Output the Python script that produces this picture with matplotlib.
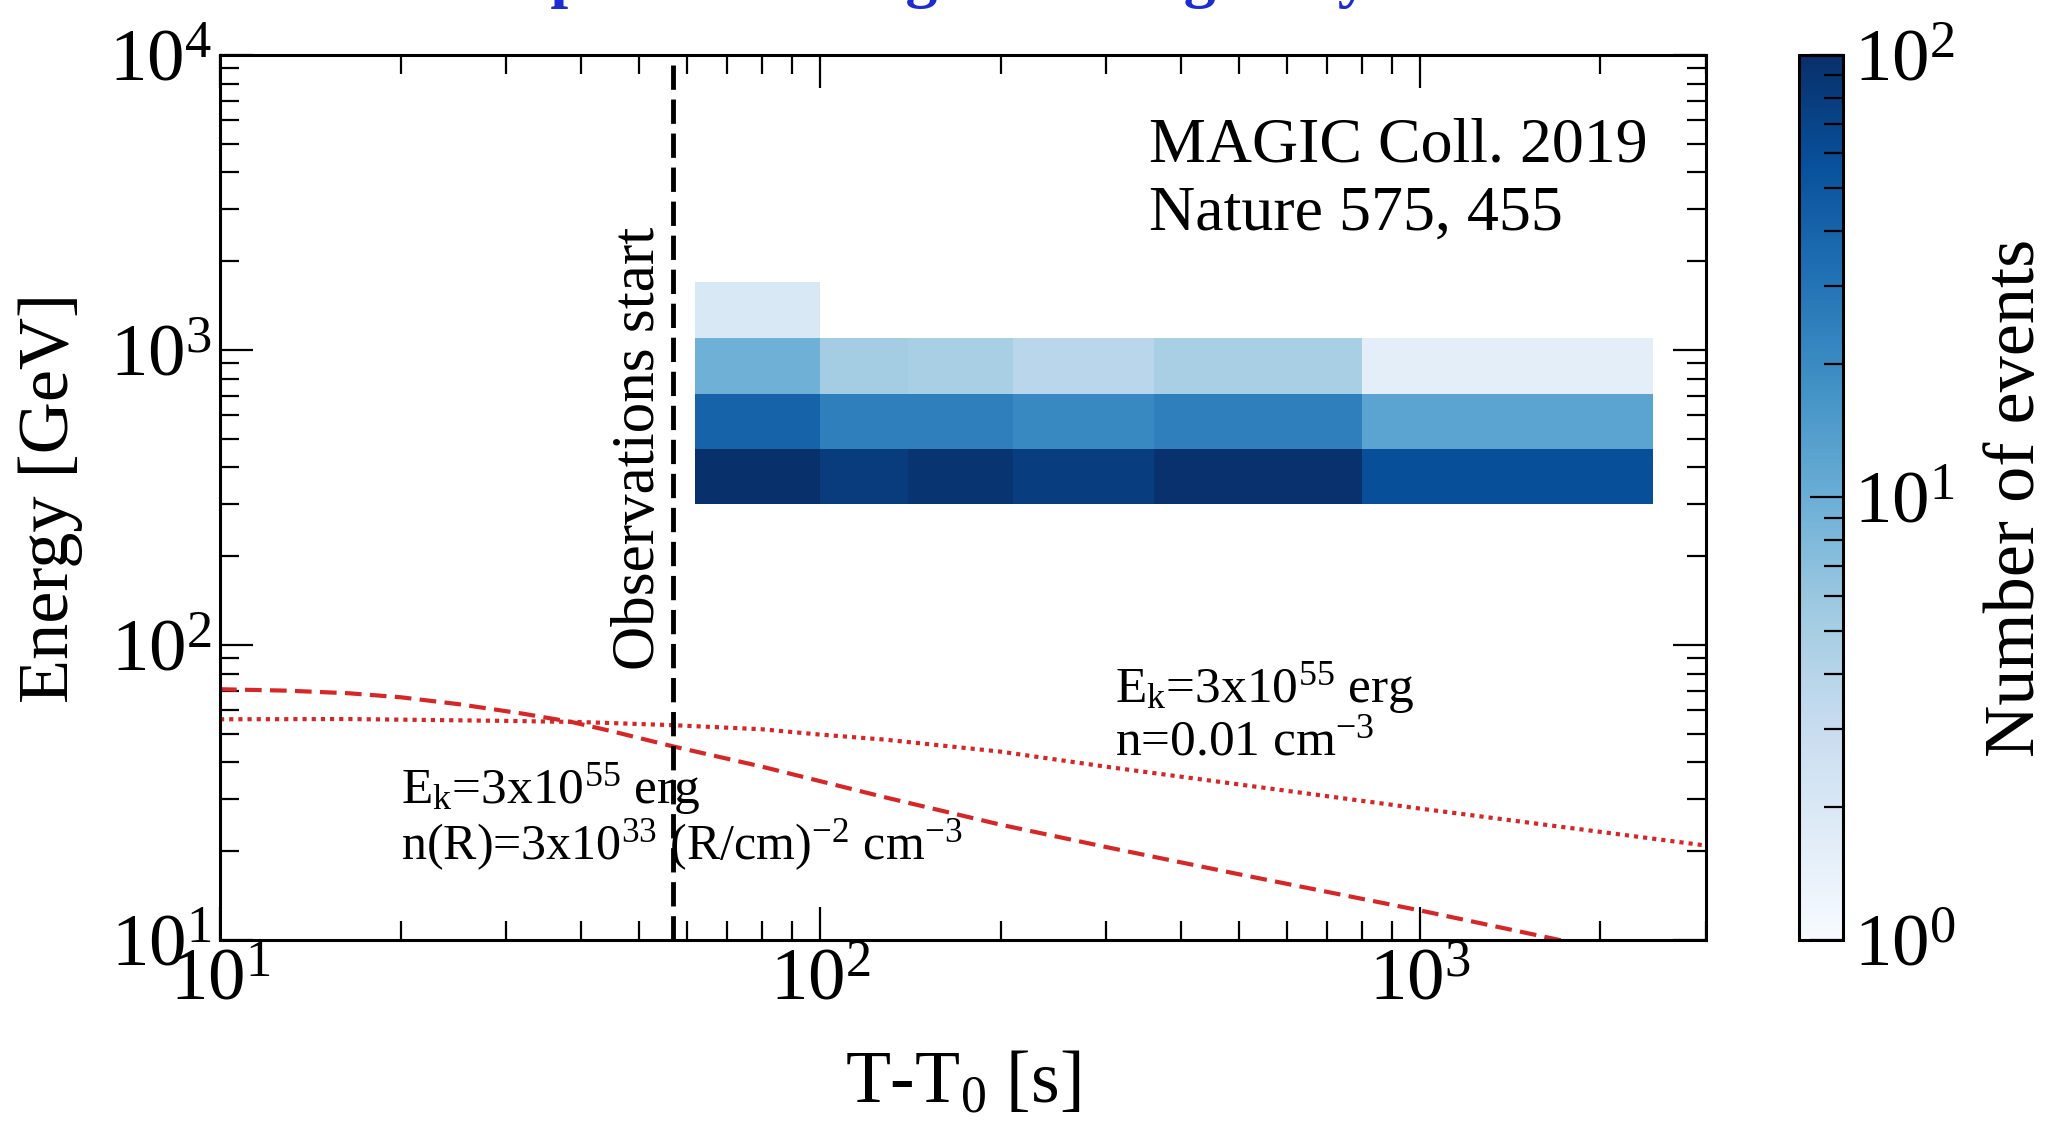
import numpy as np
import matplotlib
matplotlib.use("Agg")
import matplotlib.pyplot as plt
from matplotlib.colors import LogNorm

plt.rcParams["font.family"] = "Liberation Serif"
plt.rcParams["mathtext.fontset"] = "custom"
plt.rcParams["mathtext.rm"] = "Liberation Serif"
plt.rcParams["mathtext.it"] = "Liberation Serif:italic"
plt.rcParams["mathtext.bf"] = "Liberation Serif:bold"

# MAGIC event counts binned in time (s) and energy (GeV)
t_edges = [62, 100, 140, 210, 360, 800, 2450]
e_edges = [300, 460, 710, 1100, 1700]
counts_300_460 = [100, 80, 92, 78, 98, 58]
counts_460_710 = [40, 25, 25, 21, 25, 12.5]
counts_710_1100 = [9.5, 5.2, 4.8, 3.8, 4.8, 1.6]
counts_1100_1700 = [2.0, np.nan, np.nan, np.nan, np.nan, np.nan]

# afterglow maximum synchrotron energy, wind-like medium
t_wind = [10, 13, 16.4, 20, 25, 32, 38.6, 45, 56.7, 80, 128, 200, 302, 500,
          1000, 1671, 3000]
e_wind = [70.8, 70, 68.6, 66.5, 63, 58.5, 54.8, 51, 45.4, 38.7, 30.5, 24.6,
          20.6, 16.7, 12.6, 10.1, 7.8]

# constant density medium
t_ism = [10, 16.4, 30, 40, 56.7, 80, 100, 128, 200, 302, 1000, 3000]
e_ism = [56, 56.1, 55.3, 54.8, 53.5, 51.8, 49.7, 47.8, 43.5, 38.6, 27.9, 20.9]

t_obs_start = 57

fig = plt.figure(figsize=(20.58, 11.24), dpi=100)
ax = fig.add_axes([0.1069, 0.1637, 0.7221, 0.7874])
cax = fig.add_axes([0.8741, 0.1637, 0.0214, 0.7874])

counts = np.ma.masked_invalid(np.array([counts_300_460, counts_460_710,
                                        counts_710_1100, counts_1100_1700]))
mesh = ax.pcolormesh(t_edges, e_edges, counts, cmap="Blues",
                     norm=LogNorm(vmin=1, vmax=100))

ax.plot(t_wind, e_wind, color="#d62728", lw=3, dashes=(4, 2))
ax.plot(t_ism, e_ism, color="#d62728", lw=3, dashes=(1, 1.2))
ax.axvline(t_obs_start, color="black", lw=3.5, dashes=(5, 2))

ax.set_xscale("log")
ax.set_yscale("log")
ax.set_xlim(10, 3000)
ax.set_ylim(10, 1e4)

for side in ax.spines.values():
    side.set_linewidth(2.2)
ax.tick_params(which="both", direction="in", top=True, right=True,
               labelsize=54, width=1.6)
ax.tick_params(which="major", length=24, pad=6)
ax.tick_params(which="minor", length=14)

ax.set_xlabel(r"T-T$_0$ [s]", fontsize=53)
ax.set_ylabel("Energy [GeV]", fontsize=52)
ax.xaxis.set_label_coords(0.5, -0.125)
ax.yaxis.set_label_coords(-0.092, 0.5)

ax.text(55.5, 82, "Observations start", rotation=90, ha="right",
        va="bottom", fontsize=44)
ax.text(354, 4355, "MAGIC Coll. 2019", fontsize=46, va="baseline")
ax.text(354, 2560, "Nature 575, 455", fontsize=46, va="baseline")

ax.text(310, 64, r"E$_{\rm k}$=3x10$^{55}$ erg", fontsize=37, va="baseline")
ax.text(310, 42.4, r"n=0.01 cm$^{-3}$", fontsize=37, va="baseline")
ax.text(20, 29, r"E$_{\rm k}$=3x10$^{55}$ erg", fontsize=37, va="baseline")
ax.text(20, 18.8, r"n(R)=3x10$^{33}$ (R/cm)$^{-2}$ cm$^{-3}$", fontsize=36,
        va="baseline")

cb = fig.colorbar(mesh, cax=cax)
cb.outline.set_linewidth(2.2)
cax.tick_params(which="both", direction="in", right=True, labelsize=54,
                width=1.6)
cax.tick_params(which="major", length=24, pad=8)
cax.tick_params(which="minor", length=14)
cb.set_label("Number of events", fontsize=52)
cax.yaxis.set_label_coords(4.2, 0.5)

# heading from the slide, mostly above the canvas
fig.text(0.0, 1 + 5 / 1124, "GRB 190114C: TeV photons of highest energies by MAGIC",
         fontsize=46, fontweight="bold", color="#1c2cd0", va="baseline")

fig.savefig("out.png", dpi=100)
